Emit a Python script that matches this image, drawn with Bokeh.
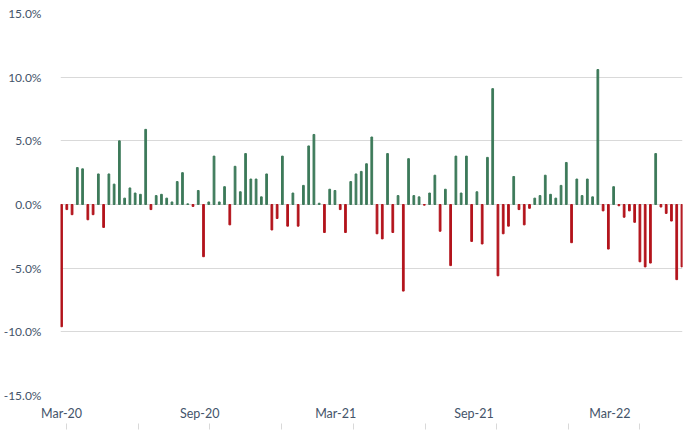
import pandas as pd
from bokeh.plotting import figure
from bokeh.models import (FixedTicker, PrintfTickFormatter, DatetimeTickFormatter,
                          DatetimeAxis, CustomJSTickFormatter)
from bokeh.embed import file_html
from bokeh.resources import INLINE

# weekly returns (%), Mar-20 .. Jun-22
first_week = "2020-03-01"
returns = [
    -9.6, -0.4, -0.8, 2.9, 2.8, -1.2, -0.8, 2.4, -1.8, 2.4,
    1.6, 5.0, 0.5, 1.3, 0.9, 0.8, 5.9, -0.4, 0.7, 0.8,
    0.5, 0.2, 1.8, 2.5, 0.05, -0.15, 1.1, -4.1, 0.2, 3.8,
    0.2, 1.4, -1.6, 3.0, 1.0, 4.0, 2.0, 2.0, 0.6, 2.4,
    -2.0, -1.1, 3.8, -1.7, 0.9, -1.7, 1.5, 4.6, 5.5, 0.1,
    -2.2, 1.2, 1.1, -0.4, -2.2, 1.8, 2.4, 2.6, 3.2, 5.3,
    -2.3, -2.7, 4.0, -2.2, 0.7, -6.8, 3.6, 0.7, 0.6, -0.05,
    0.9, 2.3, -2.1, 1.2, -4.8, 3.8, 0.9, 3.8, -2.9, 1.0,
    -3.1, 3.7, 9.1, -5.6, -2.3, -1.7, 2.2, -0.4, -1.6, -0.3,
    0.5, 0.7, 2.3, 0.8, 0.5, 1.5, 3.3, -3.0, 2.0, 0.7,
    2.0, 0.6, 10.6, -0.5, -3.5, 1.4, -0.1, -1.0, -0.5, -1.4,
    -4.5, -4.9, -4.6, 4.0, -0.2, -0.7, -1.3, -5.9, -4.9,
]
label_dates = ["2020-03-01", "2020-09-01", "2021-03-01", "2021-09-01", "2022-03-01"]
mark_dates = ["2020-03-07", "2020-06-12", "2020-09-14", "2020-12-19", "2021-03-25",
              "2021-06-28", "2021-10-01", "2022-01-05", "2022-04-10"]
y_ticks = [-15, -10, -5, 0, 5, 10, 15]

GREEN = "#3d7a5a"
RED = "#b3141c"
TEXT = "#44546a"
GRID = "#d9d9d9"

weeks = pd.date_range(first_week, periods=len(returns), freq="7D")
colors = [GREEN if r >= 0 else RED for r in returns]
week_ms = 7 * 24 * 3600 * 1000

def to_ms(d):
    return pd.Timestamp(d).value // 10**6

p = figure(width=684, height=432, x_axis_type="datetime",
           x_range=(weeks[0] - pd.Timedelta(days=1.4), weeks[-1] + pd.Timedelta(days=0.7)),
           y_range=(-15, 15), output_backend="svg", toolbar_location=None,
           min_border_left=58, min_border_right=2, min_border_top=13, min_border_bottom=37)

p.vbar(x=weeks, top=returns, bottom=0, width=0.33 * week_ms, color=colors)

p.outline_line_color = None
p.xgrid.grid_line_color = None
p.ygrid.grid_line_color = GRID
p.ygrid.grid_line_width = 1.2

p.yaxis.ticker = FixedTicker(ticks=y_ticks)
p.yaxis.formatter = PrintfTickFormatter(format="%.1f%%")
p.yaxis.axis_line_color = None
p.yaxis.major_tick_line_color = None
p.yaxis.minor_tick_line_color = None
p.yaxis.major_label_standoff = 13
p.yaxis.major_label_text_font = "Lato"
p.yaxis.major_label_text_font_size = "12px"
p.yaxis.major_label_text_color = TEXT

xa = p.xaxis[0]
xa.ticker = FixedTicker(ticks=[to_ms(d) for d in label_dates])
xa.formatter = DatetimeTickFormatter(days="%b-%y", months="%b-%y", years="%b-%y")
xa.axis_line_color = None
xa.major_tick_line_color = None
xa.minor_tick_line_color = None
xa.major_label_standoff = 4
xa.major_label_text_font = "Lato"
xa.major_label_text_font_size = "12.5px"
xa.major_label_text_color = TEXT

# tick marks below the labels
marks = DatetimeAxis(ticker=FixedTicker(ticks=[to_ms(d) for d in mark_dates]),
                     formatter=CustomJSTickFormatter(code="return ''"))
marks.axis_line_color = None
marks.minor_tick_line_color = None
marks.major_tick_line_color = GRID
marks.major_tick_in = 0
marks.major_tick_out = 6
marks.major_label_standoff = 0
p.add_layout(marks, "below")

open("out.html", "w").write(file_html(p, INLINE))
